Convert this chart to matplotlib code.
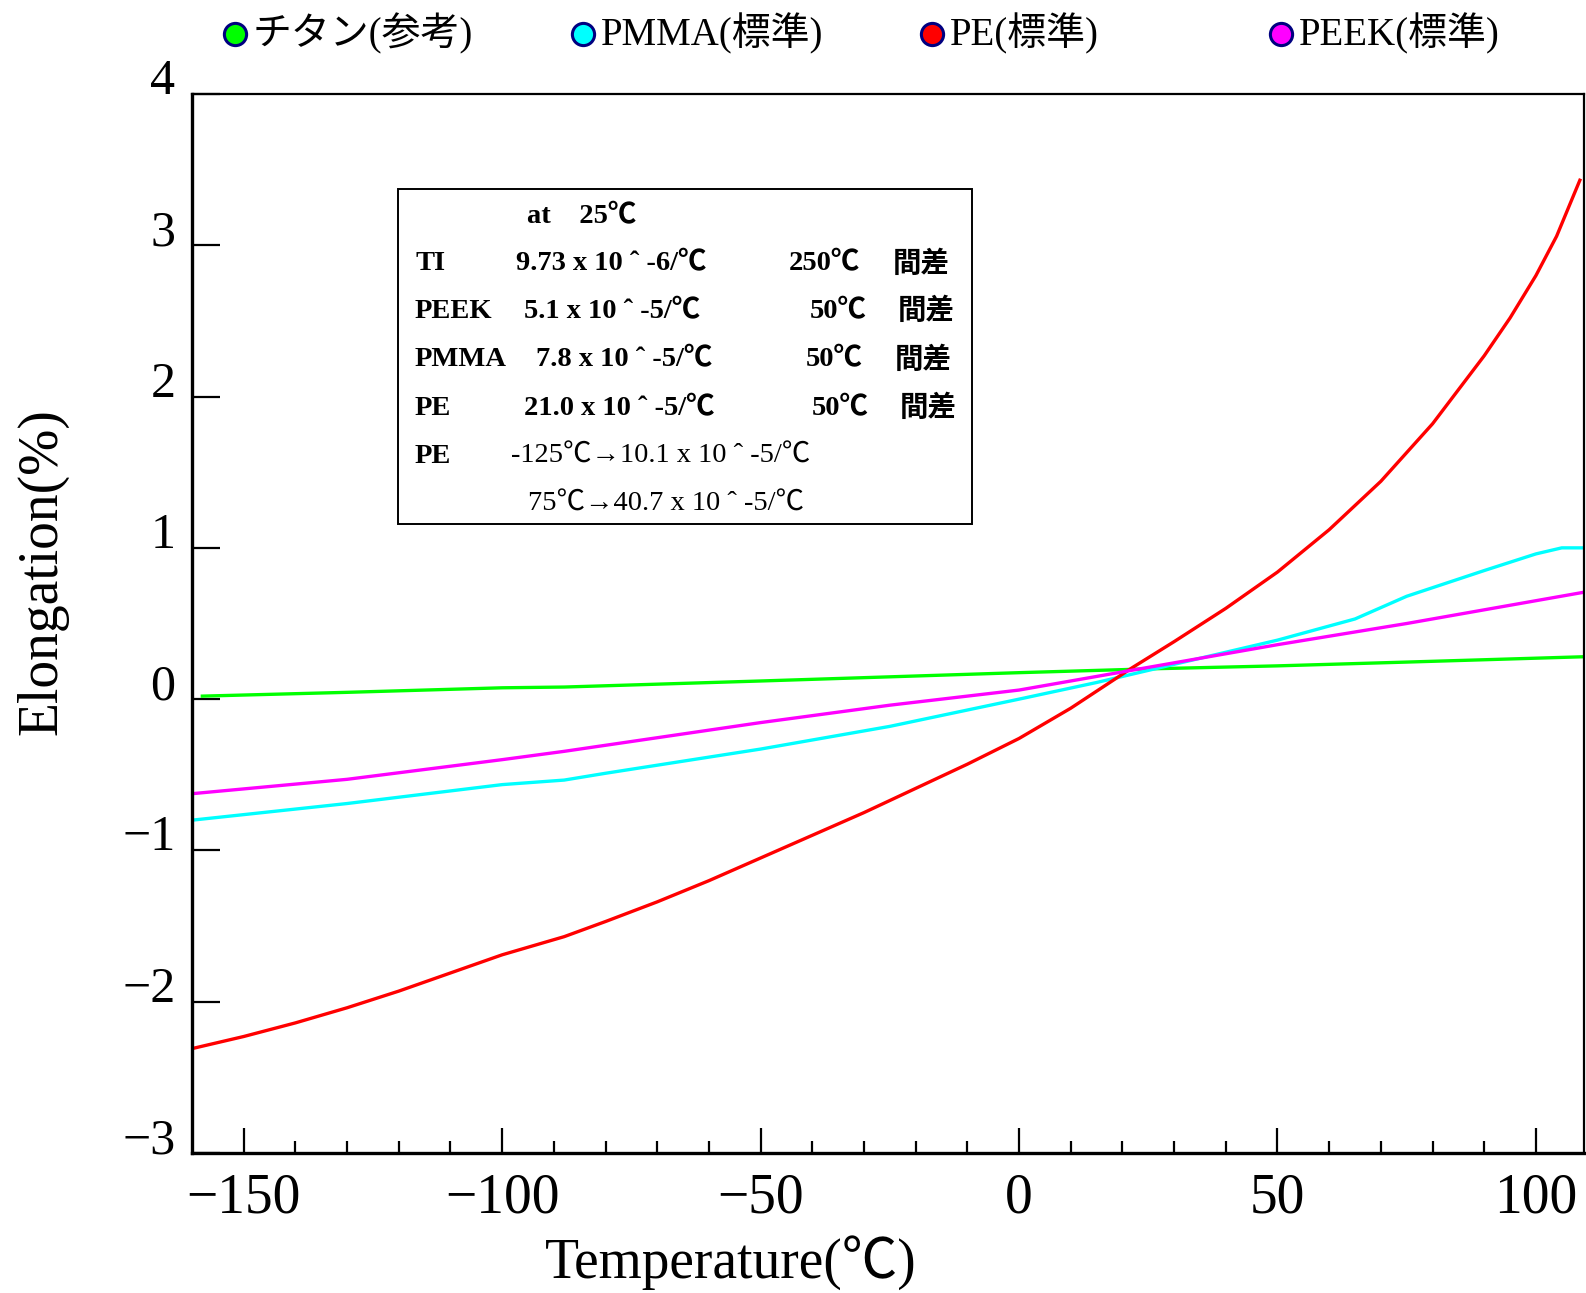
import matplotlib
matplotlib.use('Agg')
import matplotlib.pyplot as plt
from matplotlib.lines import Line2D
from matplotlib.patches import Rectangle

plt.rcParams['font.family'] = ['Liberation Serif', 'Noto Sans CJK JP']
plt.rcParams['axes.unicode_minus'] = True

# --- data ---
labels = ['チタン(参考)', 'PMMA(標準)', 'PE(標準)', 'PEEK(標準)']
colors = ['#00ff00', '#00ffff', '#ff0000', '#ff00ff']

temp_ti = [-158, -130, -100, -88, -50, 0, 25, 50, 75, 109]
elong_ti = [0.02, 0.045, 0.075, 0.08, 0.12, 0.175, 0.2, 0.22, 0.245, 0.28]

temp_pmma = [-160, -130, -100, -88, -80, -50, -25, 0, 15, 25, 40, 50, 65, 75, 90, 100, 105, 109]
elong_pmma = [-0.80, -0.69, -0.565, -0.535, -0.49, -0.33, -0.18, 0.0, 0.11, 0.19, 0.31, 0.39,
              0.53, 0.68, 0.85, 0.96, 1.0, 1.0]

temp_pe = [-160, -150, -140, -130, -120, -110, -100, -88, -80, -70, -60, -50, -40, -30, -20,
           -10, 0, 10, 22, 30, 40, 50, 60, 70, 80, 90, 95, 100, 104, 108.5]
elong_pe = [-2.31, -2.23, -2.14, -2.04, -1.93, -1.81, -1.69, -1.57, -1.47, -1.34, -1.2, -1.05,
            -0.90, -0.75, -0.59, -0.43, -0.26, -0.06, 0.21, 0.38, 0.60, 0.84, 1.12, 1.44,
            1.82, 2.27, 2.52, 2.80, 3.06, 3.43]

temp_peek = [-160, -130, -100, -88, -50, -25, 0, 25, 50, 75, 109]
elong_peek = [-0.625, -0.53, -0.40, -0.345, -0.155, -0.04, 0.06, 0.21, 0.36, 0.50, 0.705]

note_bold = [
    ('TI', '9.73 x 10 ˆ -6/℃', '250℃', '間差'),
    ('PEEK', '5.1 x 10 ˆ -5/℃', '50℃', '間差'),
    ('PMMA', '7.8 x 10 ˆ -5/℃', '50℃', '間差'),
    ('PE', '21.0 x 10 ˆ -5/℃', '50℃', '間差'),
]
note_pe = ['-125℃→10.1 x 10 ˆ -5/℃', '75℃→40.7 x 10 ˆ -5/℃']

W, H = 1586, 1293
fig = plt.figure(figsize=(W / 100, H / 100), dpi=100)
ax = fig.add_axes([192 / W, 1 - 1153 / H, (1584 - 192) / W, (1153 - 94) / H])

series = [(temp_ti, elong_ti), (temp_pmma, elong_pmma), (temp_pe, elong_pe), (temp_peek, elong_peek)]
for (t, e), c in zip(series, colors):
    ax.plot(t, e, color=c, lw=2.4)

ax.set_xlim(-160, 109.3)
ax.set_ylim(-3, 4)
ax.set_xticks([-150, -100, -50, 0, 50, 100])
ax.set_xticks(range(-150, 110, 10), minor=True)
ax.set_yticks(range(-3, 5))
ax.tick_params(axis='x', which='major', direction='in', length=18, width=1.6, labelsize=40, pad=14)
ax.tick_params(axis='x', which='minor', direction='in', length=9, width=1.6)
ax.tick_params(axis='y', which='major', direction='in', length=20, width=1.6, labelsize=36, pad=12)
for lbl in ax.get_yticklabels():
    lbl.set_va('baseline')

ax.spines['left'].set_linewidth(2.4)
ax.spines['bottom'].set_linewidth(2.4)
ax.spines['top'].set_linewidth(1.6)
ax.spines['right'].set_linewidth(1.6)

ax.set_xlabel('Temperature(℃)', fontsize=40)
ax.set_ylabel('Elongation(%)', fontsize=40)
ax.xaxis.set_label_coords(0.387, -0.078)
ax.yaxis.set_label_coords(-0.089, 0.549)

# legend across the top
mark_x = [234.7, 582.6, 931.6, 1280.6]
for mx, lab, c in zip(mark_x, labels, colors):
    fig.add_artist(Line2D([mx / W], [1 - 33.5 / H], marker='o', markersize=16,
                          markerfacecolor=c, markeredgecolor='#000080', markeredgewidth=2.2,
                          transform=fig.transFigure))
    fig.text((mx + 18) / W, 1 - 33.5 / H, lab, fontsize=28, va='center', ha='left')

# note box
fig.add_artist(Rectangle((398.5 / W, 1 - 524 / H), (972 - 398.5) / W, (524 - 189.2) / H,
                         transform=fig.transFigure, fill=False, lw=1.4, edgecolor='black'))


def note(px, py, s, bold=True):
    fig.text(px / W, 1 - py / H, s, fontsize=20.5, va='center', ha='left',
             fontweight='bold' if bold else 'normal')


note(527, 216.5, 'at    25℃')
rows_y = [264, 311.5, 360, 408.6]
val_x = [516, 524, 536, 524]
deg_x = [789, 810, 806, 812]
gap_x = [893, 898, 895, 900]
for (name, val, deg, gap), ry, vx, dx, gx in zip(note_bold, rows_y, val_x, deg_x, gap_x):
    note(415, ry, name)
    note(vx, ry, val)
    note(dx, ry, deg)
    note(gx, ry, gap)
note(415, 456.2, 'PE')
note(511, 456.2, note_pe[0], bold=False)
note(528, 503.7, note_pe[1], bold=False)

fig.savefig('out.png', dpi=100)
